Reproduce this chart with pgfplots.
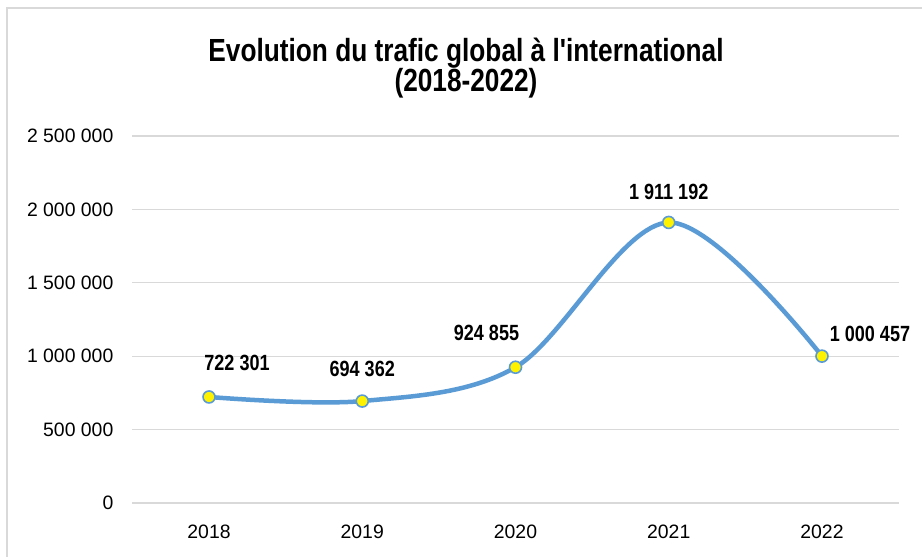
\documentclass[border=0pt]{standalone}
\usepackage{fontspec}
\setmainfont{Liberation Sans}
\newfontfamily\nb{Liberation Sans Bold}[FakeStretch=0.82]
\usepackage{pgfplots}
\usepackage{pgfplotstable}
\pgfplotsset{compat=1.18}
\definecolor{lineblue}{RGB}{91,155,213}
\definecolor{gridgray}{RGB}{217,217,217}
\pgfplotstableread[col sep=comma]{
x,y,label,dx,dy
0,722301,722 301,14,17
1,694362,694 362,0,16
2,924855,924 855,-14.5,17
3,1911192,1 911 192,0,15.5
4,1000457,1 000 457,24,11
}\datatable
\begin{document}
\begin{tikzpicture}
\useasboundingbox[fill=white] (-66.2pt,-27pt) rectangle (394.8pt,251.5pt);
\draw[gridgray,line width=0.8pt] (-62.7pt,-27pt) -- (-62.7pt,247.5pt) -- (394.8pt,247.5pt);
\begin{axis}[
  at={(0,0)}, anchor=south west,
  scale only axis, width=383.1pt, height=183.5pt,
  xmin=-0.5, xmax=4.5, ymin=0, ymax=2500000,
  scaled y ticks=false,
  xtick={0,1,2,3,4}, xticklabels={2018,2019,2020,2021,2022},
  ytick={0,500000,1000000,1500000,2000000,2500000},
  yticklabels={0,500 000,1 000 000,1 500 000,2 000 000,2 500 000},
  ymajorgrids, grid style={gridgray, line width=0.6pt},
  axis line style={draw=none}, tick style={draw=none},
  yticklabel style={font=\fontsize{9.7}{11}\selectfont, xshift=-6pt},
  xticklabel style={font=\fontsize{9.7}{11}\selectfont, yshift=-7.5pt},
  clip=false,
]
\addplot[smooth, tension=0.55, lineblue, line width=2.25pt,
  mark=*, mark size=3pt, mark options={fill=yellow, draw=lineblue, line width=0.8pt},
  point meta=explicit symbolic,
  visualization depends on={\thisrow{dx} \as \dx},
  visualization depends on={\thisrow{dy} \as \dy},
  nodes near coords,
  nodes near coords style={anchor=center, xshift=\dx pt, yshift=\dy pt, text=black, font=\nb\fontsize{11}{12}\selectfont},
] table[x=x, y=y, meta=label] {\datatable};
\end{axis}
\node[align=center, font=\nb\fontsize{16}{15}\selectfont] at (166.8pt,217.5pt) {Evolution du trafic global à l'international\\(2018-2022)};
\end{tikzpicture}
\end{document}
